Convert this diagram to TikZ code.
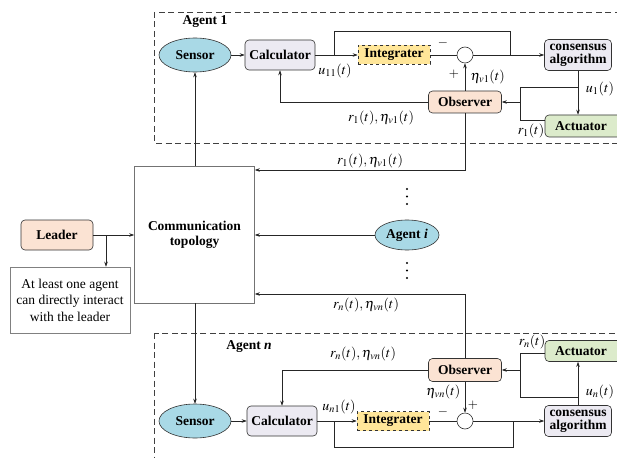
\documentclass[tikz,border=0pt]{standalone}
\usepackage{mathptmx}
\usepackage{fontspec}
\setmainfont{Liberation Serif}
\usetikzlibrary{shapes.geometric,arrows.meta}
\definecolor{sensorblue}{HTML}{A9D9E6}
\definecolor{calcfill}{HTML}{ECEAF2}
\definecolor{intfill}{HTML}{FFE699}
\definecolor{obsfill}{HTML}{FBE3D3}
\definecolor{actfill}{HTML}{DCEBCB}
\definecolor{framegray}{HTML}{404040}
\tikzset{
  base/.style={draw=black!80, line width=0.6pt, font=\fontsize{13.5}{14}\selectfont\bfseries, inner sep=1pt},
  rbox/.style={base, rounded corners=4pt},
  ellnode/.style={base, ellipse, fill=sensorblue},
  intbox/.style={base, dashed, fill=intfill, minimum width=72, minimum height=19},
  sumnode/.style={draw=black!80, line width=0.6pt, circle, minimum size=16, inner sep=0pt},
  conn/.style={line width=0.6pt, draw=black!85},
  arr/.style={conn, -{Stealth[length=5pt,width=3.5pt]}},
  frame/.style={draw=framegray, line width=0.9pt, dash pattern=on 6pt off 3.5pt},
  lbl/.style={font=\fontsize{14}{15}\selectfont, inner sep=0.5pt},
  sgn/.style={font=\fontsize{13}{13}\selectfont, inner sep=0pt},
  dotn/.style={circle, fill=black, inner sep=0pt, minimum size=2.2pt}
}
\begin{document}
\begin{tikzpicture}[x=1pt,y=-1pt]
\useasboundingbox (0,0) rectangle (617,457);
\clip (0,0) rectangle (617,457);
\fill[white] (0,0) rectangle (617,457);

% frames
\draw[frame] (154,12) rectangle (660,143);
\draw[frame] (154,333) rectangle (660,480);
\node[lbl, font=\fontsize{13.5}{14}\selectfont\bfseries] (t1) at (205,22) {Agent 1};
\node[lbl, font=\fontsize{13.5}{14}\selectfont\bfseries] (tn) at (249,347) {Agent \textit{n}};

% ---------- Agent 1 ----------
\node[ellnode, minimum width=72, minimum height=34] (s1) at (195,55) {Sensor};
\node[rbox, fill=calcfill, minimum width=70, minimum height=30] (c1) at (280,55) {Calculator};
\node[intbox] (i1) at (394,55) {Integrater};
\node[sumnode] (o1) at (465,55) {};
\node[rbox, fill=calcfill, minimum width=67, minimum height=31, align=center, font=\fontsize{13.5}{13}\selectfont\bfseries] (ca1) at (578,55) {consensus\\algorithm};
\node[rbox, fill=obsfill, minimum width=73, minimum height=22] (ob1) at (465,102) {Observer};
\node[rbox, fill=actfill, minimum width=80, minimum height=22] (a1) at (585,126) {\hspace*{-8pt}Actuator};

\draw[arr] (s1) -- (c1);
\draw[arr] (c1) -- (i1);
\draw[conn] (i1) -- (o1);
\draw[arr] (o1) -- (ca1);
\coordinate (b1a) at (334,55);
\coordinate (b1b) at (510,55);
\draw[conn] (b1a) -- (334,31) -- (510,31) -- (b1b);
\draw[arr] (ob1) -- (o1);
\draw[arr] (ob1.west) -| (c1.south);
\draw[arr] (ca1.south) -- (ca1.south |- a1.north);
\coordinate (j1a) at (578,87);
\coordinate (j1b) at (520,87);
\coordinate (j1c) at (520,120);
\coordinate (j1d) at (520,102);
\draw[conn] (j1a) -- (j1b) -- (j1c) -- (j1c -| a1.west);
\draw[arr] (j1d) -- (ob1.east);
\node[lbl] (lu11) at (335,71) {$u_{11}(t)$};
\node[sgn] (m1) at (443,43) {$-$};
\node[sgn] (p1) at (454,74) {$+$};
\node[lbl, anchor=west] (le1) at (470,77) {$\eta_{v1}(t)$};
\node[lbl] (lr1) at (381,118) {$r_{1}(t),\eta_{v1}(t)$};
\node[lbl] (lu1) at (600,89) {$u_{1}(t)$};
\node[lbl] (lr1b) at (531,131) {$r_{1}(t)$};

% ---------- Communication ----------
\node[draw=black!55, line width=0.6pt, minimum width=120, minimum height=137, align=center, font=\fontsize{13.5}{15}\selectfont\bfseries] (cm) at (194.5,234.5) {Communication\\topology};
\draw[arr] (cm.north -| s1) -- (s1);
\coordinate (r1a) at (465,170);
\draw[arr] (ob1.south) -- (r1a) -- (r1a -| cm.east);
\node[lbl] (lr1c) at (370,161) {$r_{1}(t),\eta_{v1}(t)$};

\node[rbox, fill=obsfill, minimum width=72, minimum height=30] (ld) at (57,235) {Leader};
\draw[arr] (ld) -- (cm.west |- ld);
\node[draw=black!50, line width=0.5pt, minimum width=120, minimum height=66, align=center, font=\fontsize{13.5}{16.5}\selectfont, inner sep=1pt] (note) at (70,300) {At least one agent\\can directly interact\\with the leader};
\coordinate (lb) at (106,235);
\draw[arr] (lb) -- (lb |- note.north);

\node[ellnode, minimum width=64, minimum height=30] (ai) at (407,235) {Agent \textit{i}};
\draw[arr] (ai) -- (cm.east |- ai);
\foreach \k/\yy in {1/189,2/196.5,3/204,4/263,5/270.5,6/278}
  \node[dotn] (dot\k) at (407,\yy) {};

% ---------- Agent n ----------
\node[ellnode, minimum width=72, minimum height=34] (sn) at (195,421) {Sensor};
\node[rbox, fill=calcfill, minimum width=70, minimum height=30] (cn) at (282,421) {Calculator};
\node[intbox] (in) at (393,421) {Integrater};
\node[sumnode] (on) at (465,421) {};
\node[rbox, fill=calcfill, minimum width=67, minimum height=31, align=center, font=\fontsize{13.5}{13}\selectfont\bfseries] (can) at (578,421) {consensus\\algorithm};
\node[rbox, fill=obsfill, minimum width=73, minimum height=23] (obn) at (465,370) {Observer};
\node[rbox, fill=actfill, minimum width=80, minimum height=21] (an) at (585,351) {\hspace*{-8pt}Actuator};

\draw[arr] (cm.south -| sn) -- (sn);
\draw[arr] (sn) -- (cn);
\draw[arr] (cn) -- (in);
\draw[conn] (in) -- (on);
\draw[arr] (on) -- (can);
\coordinate (bna) at (334,421);
\coordinate (bnb) at (513,421);
\draw[conn] (bna) -- (334,447) -- (513,447) -- (bnb);
\draw[arr] (obn) -- (on);
\draw[arr] (obn.west) -| (cn.north);
\draw[arr] (can.north) -- (can.north |- an.south);
\coordinate (jna) at (578,397);
\coordinate (jnb) at (520,397);
\coordinate (jnc) at (520,353);
\coordinate (jnd) at (520,370);
\draw[conn] (jna) -- (jnb) -- (jnc) -- (jnc -| an.west);
\draw[arr] (jnd) -- (obn.east);
\coordinate (rna) at (465,294);
\draw[arr] (obn.north) -- (rna) -- (rna -| cm.east);
\node[lbl] (lrnc) at (366,305) {$r_{n}(t),\eta_{vn}(t)$};
\node[lbl] (lrn) at (363,354) {$r_{n}(t),\eta_{vn}(t)$};
\node[lbl] (lun1) at (339,407) {$u_{n1}(t)$};
\node[sgn] (mn) at (443,412) {$-$};
\node[sgn] (pn) at (473,405) {$+$};
\node[lbl, anchor=east] (len) at (461,392) {$\eta_{vn}(t)$};
\node[lbl] (lun) at (600,392) {$u_{n}(t)$};
\node[lbl] (lrn2) at (532,342) {$r_{n}(t)$};
\end{tikzpicture}
\end{document}
